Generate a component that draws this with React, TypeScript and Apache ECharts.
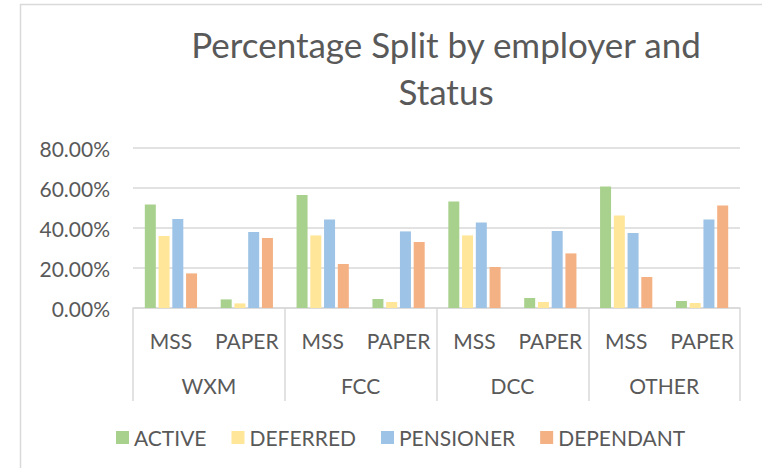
import React, { useEffect, useRef } from "react";
import * as echarts from "echarts";

const employers = ["WXM", "FCC", "DCC", "OTHER"];
const channels = ["MSS", "PAPER"];
const seriesNames = ["ACTIVE", "DEFERRED", "PENSIONER", "DEPENDANT"];
const active = [0.518, 0.043, 0.565, 0.045, 0.533, 0.05, 0.607, 0.035];
const deferred = [0.36, 0.023, 0.363, 0.03, 0.363, 0.03, 0.462, 0.025];
const pensioner = [0.445, 0.38, 0.443, 0.383, 0.428, 0.385, 0.375, 0.443];
const dependant = [0.173, 0.35, 0.22, 0.33, 0.205, 0.273, 0.155, 0.513];
const colors = ["#A9D18E", "#FFE699", "#9DC3E6", "#F4B183"];
const titleText = "Percentage Split by employer and\nStatus";

const FONT = "Lato";
const TXT = "#595959";
const GRID = "#D9D9D9";

export default function App() {
  const ref = useRef<HTMLDivElement>(null);
  useEffect(() => {
    if (!ref.current) return;
    document.body.style.margin = "0";
    document.body.style.overflow = "hidden";
    document.documentElement.style.overflow = "hidden";
    const chart = echarts.init(ref.current, null, { renderer: "svg" });
    const subCats: string[] = [];
    employers.forEach(() => channels.forEach((c) => subCats.push(c)));
    const values = [active, deferred, pensioner, dependant];
    chart.setOption({
      animation: false,
      backgroundColor: "#fff",
      textStyle: { fontFamily: FONT },
      graphic: [
        {
          type: "polyline",
          shape: { points: [[20.5, 480], [20.5, 4.5], [780, 4.5]] },
          style: { stroke: GRID, lineWidth: 1.5, fill: "none" },
          silent: true,
        },
        {
          type: "text",
          x: 446,
          y: 20.8,
          style: {
            text: titleText,
            align: "center",
            verticalAlign: "top",
            fontFamily: FONT,
            fontSize: 35,
            lineHeight: 47,
            fill: TXT,
          },
        },
      ],
      legend: {
        data: seriesNames,
        left: 111,
        top: 422,
        icon: "rect",
        itemWidth: 13,
        itemHeight: 13,
        itemGap: 25,
        textStyle: { fontFamily: FONT, fontSize: 21, lineHeight: 21, color: TXT },
      },
      grid: { left: 133, right: 22, top: 148, bottom: 160 },
      xAxis: [
        {
          type: "category",
          position: "bottom",
          data: subCats,
          axisLine: { show: true, lineStyle: { color: GRID, width: 1.5 } },
          axisTick: { show: false },
          axisLabel: {
            interval: 0,
            margin: 21.5,
            fontFamily: FONT,
            fontSize: 21,
            lineHeight: 21,
            color: TXT,
          },
        },
        {
          type: "category",
          position: "bottom",
          data: employers,
          axisLine: { show: false },
          axisTick: { show: true, length: 93, lineStyle: { color: GRID, width: 1.5 } },
          axisLabel: {
            interval: 0,
            margin: 66.5,
            fontFamily: FONT,
            fontSize: 21,
            lineHeight: 21,
            color: TXT,
          },
        },
      ],
      yAxis: {
        type: "value",
        min: 0,
        max: 0.8,
        interval: 0.2,
        axisLine: { show: false },
        axisTick: { show: false },
        splitLine: { lineStyle: { color: GRID, width: 1.5 } },
        axisLabel: {
          margin: 23,
          fontFamily: FONT,
          fontSize: 21,
          color: TXT,
          formatter: (v: number) => (v * 100).toFixed(2) + "%",
        },
      },
      series: seriesNames.map((name, i) => ({
        name,
        type: "bar",
        xAxisIndex: 0,
        data: values[i],
        barWidth: 11,
        barGap: "25%",
        itemStyle: { color: colors[i] },
      })),
    });
    return () => chart.dispose();
  }, []);
  return (
    <div
      ref={ref}
      style={{ position: "fixed", left: 0, top: 0, width: 762, height: 468 }}
    />
  );
}
